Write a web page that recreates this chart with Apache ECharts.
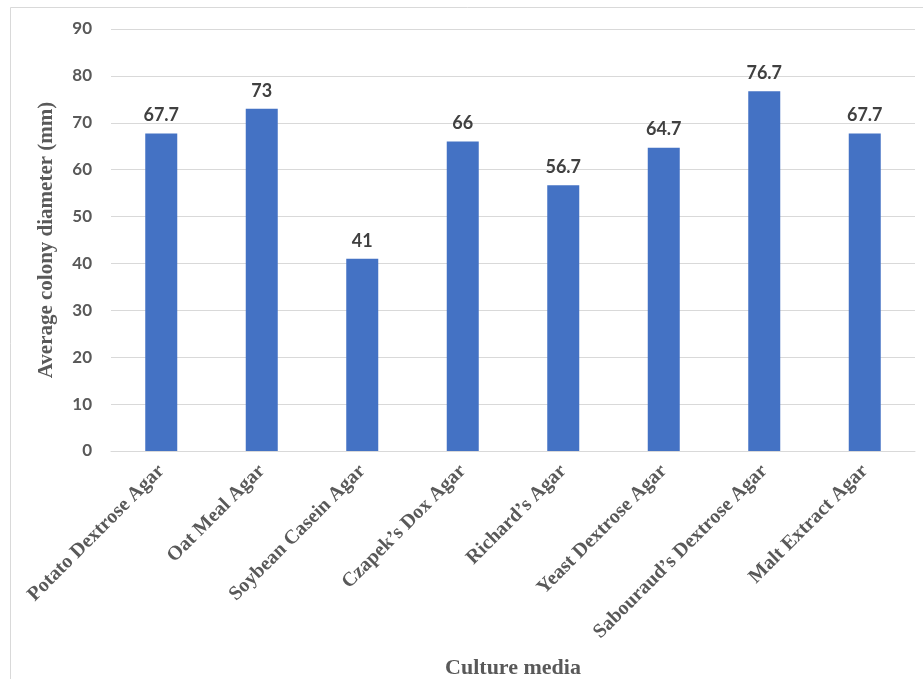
<!DOCTYPE html>
<html>
<head>
<meta charset="utf-8">
<script src="https://cdn.jsdelivr.net/npm/echarts@6/dist/echarts.min.js"></script>
<style>
  html, body { margin: 0; padding: 0; background: #fff; }
  #chart { width: 923px; height: 679px; }
</style>
</head>
<body>
<div id="chart"></div>
<script>
const media = ['Potato Dextrose Agar', 'Oat Meal Agar', 'Soybean Casein Agar', 'Czapek\u2019s Dox Agar',
  'Richard\u2019s Agar', 'Yeast Dextrose Agar', 'Sabouraud\u2019s Dextrose Agar', 'Malt Extract Agar'];
const diameter = [67.7, 73, 41, 66, 56.7, 64.7, 76.7, 67.7];

const chart = echarts.init(document.getElementById('chart'));
const serif = '"Liberation Serif", "DejaVu Serif", serif';

chart.setOption({
  animation: false,
  backgroundColor: '#fff',
  graphic: [{
    type: 'rect',
    shape: { x: 10.5, y: 7.5, width: 918, height: 690 },
    style: { fill: 'none', stroke: '#d9d9d9', lineWidth: 1 },
    silent: true,
  }],
  grid: { left: 111, right: 8, top: 29, bottom: 228, outerBoundsMode: 'none' },
  xAxis: {
    type: 'category',
    data: media,
    name: 'Culture media',
    nameLocation: 'middle',
    nameGap: 206,
    nameTextStyle: { fontFamily: serif, fontWeight: 'bold', fontSize: 22, color: '#595959' },
    axisTick: { show: false },
    axisLine: { lineStyle: { color: '#d9d9d9', width: 1 } },
    axisLabel: {
      rotate: 45,
      interval: 0,
      margin: 17,
      fontFamily: serif,
      fontWeight: 'bold',
      fontSize: 20,
      color: '#595959',
    },
  },
  yAxis: {
    type: 'value',
    min: 0,
    max: 90,
    interval: 10,
    name: 'Average colony diameter (mm)',
    nameLocation: 'middle',
    nameGap: 54,
    nameTextStyle: { fontFamily: serif, fontWeight: 'bold', fontSize: 21, color: '#595959' },
    axisLine: { show: false },
    axisTick: { show: false },
    axisLabel: { fontFamily: 'Lato, "Liberation Sans", sans-serif', fontWeight: 'bold', fontSize: 17, color: '#595959', margin: 19 },
    splitLine: { lineStyle: { color: '#d9d9d9', width: 1 } },
  },
  series: [{
    type: 'bar',
    data: diameter,
    barWidth: 32,
    itemStyle: { color: '#4472c4' },
    label: {
      show: true,
      position: 'top',
      distance: 9,
      fontFamily: 'Lato, "Liberation Sans", sans-serif',
      fontWeight: 'bold',
      fontSize: 18,
      color: '#404040',
    },
  }],
});
</script>
</body>
</html>
